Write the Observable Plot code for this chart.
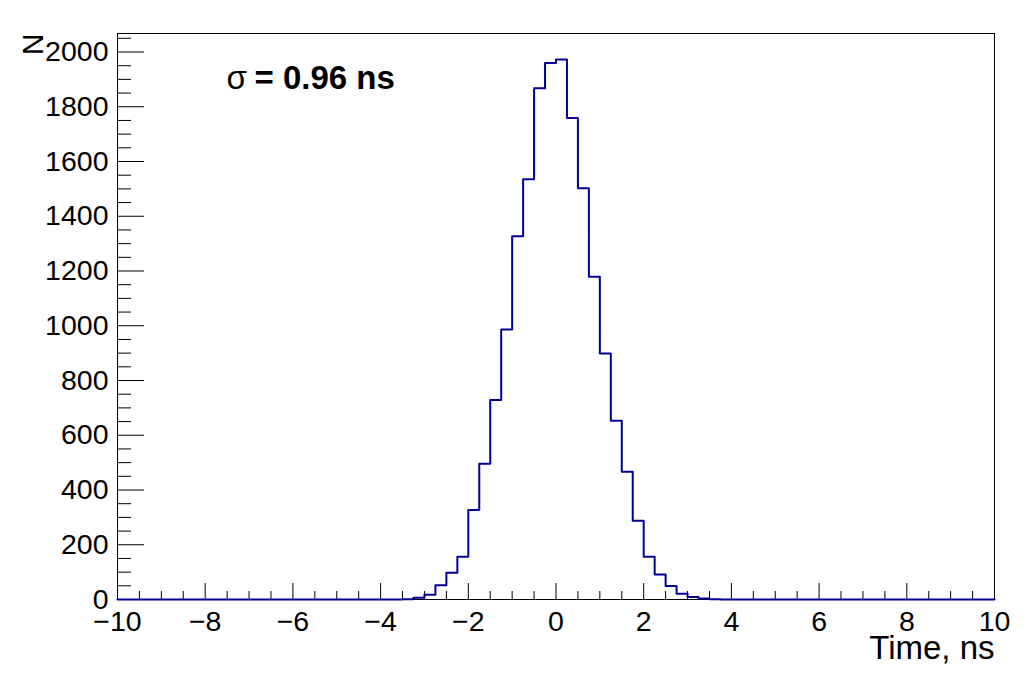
<!DOCTYPE html>
<html>
<head>
<meta charset="utf-8">
<script src="https://cdn.jsdelivr.net/npm/d3@7"></script>
<script src="https://cdn.jsdelivr.net/npm/@observablehq/plot@0.6"></script>
<style>
  html, body { margin: 0; padding: 0; background: white; }
</style>
</head>
<body>
<div id="chart"></div>
<script>
// Histogram: 80 bins of 0.25 ns from -10 to 10 ns
const binLow = -10;
const binWidth = 0.25;
const counts = [
  0, 0, 0, 0, 0, 0, 0, 0, 0, 0,
  0, 0, 0, 0, 0, 0, 0, 0, 0, 0,
  0, 0, 0, 0, 0, 0, 1, 6, 17, 52,
  98, 156, 327, 496, 729, 986, 1327, 1535, 1868, 1960,
  1973, 1759, 1502, 1179, 899, 653, 467, 288, 156, 91,
  49, 21, 9, 4, 1, 0, 0, 0, 0, 0,
  0, 0, 0, 0, 0, 0, 0, 0, 0, 0,
  0, 0, 0, 0, 0, 0, 0, 0, 0, 0
];
const xMajorTicks = [-10, -8, -6, -4, -2, 0, 2, 4, 6, 8, 10];
const xMinorTicks = [-9.5, -9, -8.5, -7.5, -7, -6.5, -5.5, -5, -4.5, -3.5, -3, -2.5, -1.5, -1, -0.5,
                     0.5, 1, 1.5, 2.5, 3, 3.5, 4.5, 5, 5.5, 6.5, 7, 7.5, 8.5, 9, 9.5];
const yMajorTicks = [0, 200, 400, 600, 800, 1000, 1200, 1400, 1600, 1800, 2000];
const yMinorTicks = [50, 100, 150, 250, 300, 350, 450, 500, 550, 650, 700, 750, 850, 900, 950,
                     1050, 1100, 1150, 1250, 1300, 1350, 1450, 1500, 1550, 1650, 1700, 1750,
                     1850, 1900, 1950, 2050];
const xTitle = "Time, ns";
const yTitle = "N";
const sigmaSymbol = "σ";
const sigmaText = "= 0.96 ns";

// step points: each bin's low edge, plus the final upper edge
const points = counts.map((c, i) => ({x: binLow + i * binWidth, y: c}));
points.push({x: binLow + counts.length * binWidth, y: counts[counts.length - 1]});

const W = 1036, H = 689;
const mL = 117, mR = 42, mT = 33, mB = 90;
const plotW = W - mL - mR, plotH = H - mT - mB;
const font = "'Liberation Sans', Arial, Helvetica, sans-serif";

const chart = Plot.plot({
  width: W,
  height: H,
  marginLeft: mL,
  marginRight: mR,
  marginTop: mT,
  marginBottom: mB,
  style: {fontFamily: font, fontSize: "28px", background: "white", color: "black"},
  x: {domain: [-10, 10]},
  y: {domain: [0, 2067.6]},
  marks: [
    // inward ticks (ROOT style)
    Plot.tickY(yMajorTicks, {y: d => d, insetRight: plotW - 27, stroke: "black", strokeWidth: 1}),
    Plot.tickY(yMinorTicks, {y: d => d, insetRight: plotW - 14, stroke: "black", strokeWidth: 1}),
    Plot.tickX(xMajorTicks, {x: d => d, insetTop: plotH - 16, stroke: "black", strokeWidth: 1}),
    Plot.tickX(xMinorTicks, {x: d => d, insetTop: plotH - 8, stroke: "black", strokeWidth: 1}),
    Plot.axisY({ticks: yMajorTicks, tickSize: 0, tickPadding: 9, fontSize: 28.5, tickFormat: d3.format("d"), label: null}),
    Plot.axisX({ticks: xMajorTicks, tickSize: 0, tickPadding: 11, fontSize: 28.5, tickFormat: d3.format("d"), label: null}),
    Plot.frame({stroke: "black", strokeWidth: 1}),
    Plot.line(points, {x: "x", y: "y", curve: "step-after", stroke: "#000099", strokeWidth: 2}),
    // annotations
    Plot.text([sigmaSymbol], {text: d => d, frameAnchor: "top-left", dx: 109, dy: 55, textAnchor: "start", lineAnchor: "bottom", fontSize: 33, fill: "black"}),
    Plot.text([sigmaText], {text: d => d, frameAnchor: "top-left", dx: 137, dy: 55, textAnchor: "start", lineAnchor: "bottom", fontSize: 33, fontWeight: "bold", fill: "black"}),
    Plot.text([xTitle], {text: d => d, frameAnchor: "bottom-right", dx: 0, dy: 59, textAnchor: "end", lineAnchor: "bottom", fontSize: 33, fill: "black"}),
    Plot.text([yTitle], {text: d => d, frameAnchor: "top-left", dx: -84, dy: 0, rotate: -90, textAnchor: "end", lineAnchor: "middle", fontSize: 30, fill: "black"})
  ]
});
document.getElementById("chart").appendChild(chart);
</script>
</body>
</html>
